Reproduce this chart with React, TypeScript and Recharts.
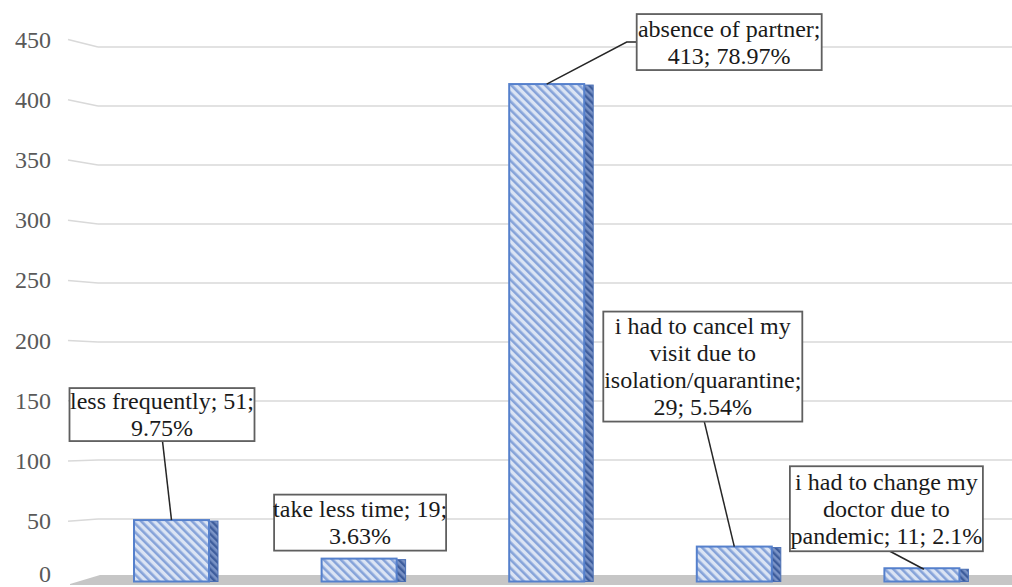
import { BarChart, Bar, XAxis, YAxis, CartesianGrid, LabelList } from 'recharts';

const categories = [
  'less frequently',
  'take less time',
  'absence of partner',
  'i had to cancel my visit due to isolation/quarantine',
  'i had to change my doctor due to pandemic',
];
const counts = [51, 19, 413, 29, 11];
const shares = ['9.75%', '3.63%', '78.97%', '5.54%', '2.1%'];
const calloutLines = [
  ['less frequently; 51;', '9.75%'],
  ['take less time; 19;', '3.63%'],
  ['absence of partner;', '413; 78.97%'],
  ['i had to cancel my', 'visit due to', 'isolation/quarantine;', '29; 5.54%'],
  ['i had to change my', 'doctor due to', 'pandemic; 11; 2.1%'],
];
const yTicks = [0, 50, 100, 150, 200, 250, 300, 350, 400, 450];

const data = categories.map((name, i) => ({ name, count: counts[i], share: shares[i] }));

// callout box placement relative to the top centre of each bar front
const calloutLayout = [
  { left: -102, top: -132, w: 185, h: 53, leader: [[-9, -79], [0, 0]] },
  { left: -85, top: -64, w: 172, h: 56, leader: [] },
  { left: 90, top: -70, w: 185, h: 56, leader: [[0, 0], [80, -42], [90, -42]] },
  { left: -131, top: -235, w: 199, h: 110, leader: [[-30, -125], [0, 0]] },
  { left: -132, top: -102, w: 193, h: 85, leader: [[-32, -17], [2, 1]] },
];

const serif = {
  fontFamily: '"Liberation Serif", "DejaVu Serif", "Noto Serif", Times, serif',
  fontSize: 24,
};

const renderGrid = (p: any) => {
  const y = p.y1;
  if (y > 570) {
    return (
      <g>
        <polygon points="70,584 100,575 1012,575 1012,585 70,585" fill="#c6c6c6" />
      </g>
    );
  }
  // back wall sits slightly lower / flatter than the bar fronts
  const yb = 578 - (581.5 - y) * (531 / 542);
  return (
    <g>
      <line x1={68} y1={y} x2={98} y2={yb} stroke="#d9d9d9" strokeWidth={1.5} />
      <line x1={98} y1={yb} x2={1012} y2={yb} stroke="#d9d9d9" strokeWidth={1.5} />
    </g>
  );
};

const renderTick = (p: any) => (
  <text x={51} y={Math.min(p.y, 574)} textAnchor="end" dominantBaseline="central" fill="#595959" style={serif}>
    {p.payload.value}
  </text>
);

const renderBar = (p: any) => {
  const { x, y, width: w, height: h, index } = p;
  return (
    <g>
      {index === 0 && (
        <defs>
          <pattern id="frontHatch" patternUnits="userSpaceOnUse" width={6} height={6} patternTransform="rotate(-45)">
            <rect width={6} height={6} fill="#dbe4f4" />
            <rect width={2.6} height={6} fill="#86a3d9" />
          </pattern>
          <pattern id="sideHatch" patternUnits="userSpaceOnUse" width={5} height={5} patternTransform="rotate(-45)">
            <rect width={5} height={5} fill="#7a93c6" />
            <rect width={2.4} height={5} fill="#3e5d9c" />
          </pattern>
        </defs>
      )}
      <rect x={x + w} y={y + 1} width={9} height={h - 1} fill="url(#sideHatch)" stroke="#4a6fb5" strokeWidth={1} />
      <rect x={x} y={y} width={w} height={h} fill="url(#frontHatch)" stroke="#5580cc" strokeWidth={2} />
    </g>
  );
};

const renderCallout = (p: any) => {
  const vb = p.viewBox ?? p;
  const i = categories.indexOf(p.value);
  if (i < 0) return null;
  const cx = vb.x + vb.width / 2;
  const top = vb.y;
  const lay = calloutLayout[i];
  const lines = calloutLines[i];
  const bx = cx + lay.left;
  const by = top + lay.top;
  const midY = by + lay.h / 2;
  const step = 27;
  const first = midY - ((lines.length - 1) * step) / 2;
  return (
    <g>
      {lay.leader.length > 1 && (
        <polyline
          points={lay.leader.map(([dx, dy]) => `${cx + dx},${top + dy}`).join(' ')}
          fill="none"
          stroke="#262626"
          strokeWidth={1.5}
        />
      )}
      <rect x={bx} y={by} width={lay.w} height={lay.h} fill="#fff" stroke="#5f5f5f" strokeWidth={1.8} />
      {lines.map((t, k) => (
        <text
          key={k}
          x={bx + lay.w / 2}
          y={first + k * step}
          textAnchor="middle"
          dominantBaseline="central"
          style={serif}
          fill="#1a1a1a"
        >
          {t}
        </text>
      ))}
    </g>
  );
};

export default function App() {
  return (
    <div style={{ position: 'absolute', left: 0, top: 0, width: 1012, height: 587, overflow: 'hidden', background: '#fff' }}>
      <BarChart width={1020} height={587} data={data} margin={{ top: 39.5, right: 4, bottom: 5.5, left: 8 }}>
        <CartesianGrid vertical={false} horizontal={renderGrid} />
        <XAxis dataKey="name" hide />
        <YAxis width={70} domain={[0, 450]} ticks={yTicks} interval={0} axisLine={false} tickLine={false} tick={renderTick} />
        <Bar dataKey="count" barSize={75} shape={renderBar} isAnimationActive={false}>
          <LabelList dataKey="name" content={renderCallout} />
        </Bar>
      </BarChart>
    </div>
  );
}
